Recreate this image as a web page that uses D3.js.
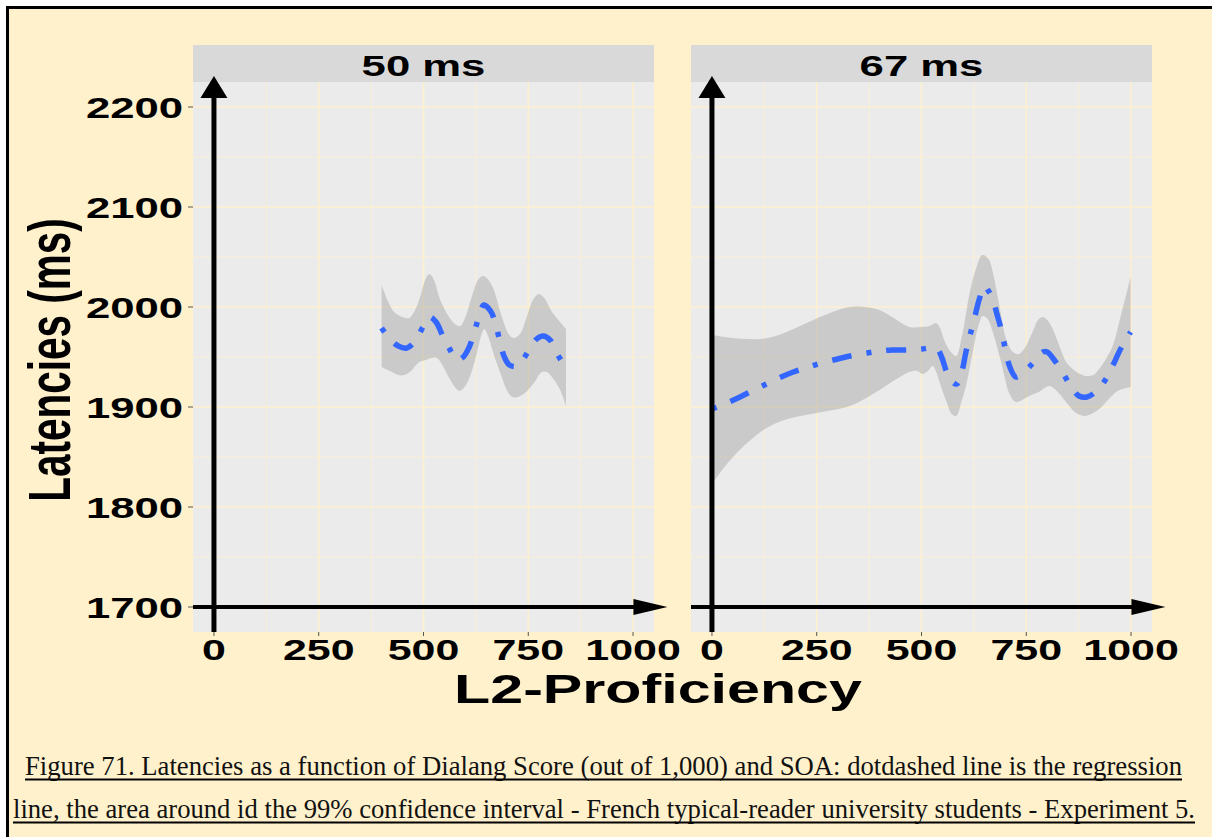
<!DOCTYPE html>
<html>
<head>
<meta charset="utf-8">
<script src="https://cdn.jsdelivr.net/npm/d3@7"></script>
<style>
  html, body { margin: 0; padding: 0; background: #fff; overflow: hidden; }
  svg { display: block; }
</style>
</head>
<body>
<svg id="chart" width="1212" height="837"></svg>
<script>
// facets and axis breaks
var panels = ["50 ms", "67 ms"];
var xTicks = [0, 250, 500, 750, 1000];
var xMinor = [125, 375, 625, 875];
var yTicks = [1700, 1800, 1900, 2000, 2100, 2200];
var yMinor = [1750, 1850, 1950, 2050, 2150];

// 50 ms : smooth fit and 99% band
var fit50 = [[400,1979],[420,1968],[440,1961],[460,1959],[480,1966],[500,1981],[515,1990],[530,1985],[546,1971],[560,1960],[580,1947],[595,1950],[608,1959],[622,1976],[632,1990],[644,2002],[660,1996],[672,1983],[682,1966],[692,1951],[705,1942],[725,1941],[740,1949],[756,1960],[770,1968],[785,1971],[802,1967],[815,1956],[828,1947],[840,1940]];
var upper50 = [[400,2022],[415,2006],[430,1995],[450,1990],[466,1989],[480,1997],[492,2010],[505,2028],[514,2033],[524,2028],[540,2007],[561,1990],[575,1983],[588,1981],[600,1990],[615,2010],[630,2027],[642,2031],[655,2027],[667,2018],[685,1993],[703,1973],[715,1969],[730,1973],[745,1988],[760,2006],[775,2013],[790,2008],[805,1996],[820,1988],[840,1978]];
var lower50 = [[400,1940],[420,1936],[440,1932],[455,1932],[470,1936],[490,1945],[505,1947],[520,1949],[532,1949],[545,1942],[560,1930],[575,1920],[585,1916],[598,1920],[612,1932],[625,1950],[638,1972],[645,1978],[655,1970],[668,1952],[685,1932],[700,1916],[712,1910],[725,1910],[745,1915],[765,1925],[782,1935],[795,1935],[810,1928],[825,1918],[840,1901]];

// 67 ms
var fit67 = [[0,1898],[30,1903],[67,1910],[100,1917],[130,1923],[160,1929],[194,1935],[230,1940],[261,1944],[300,1948],[330,1951],[370,1954],[400,1956],[430,1957],[464,1957],[500,1958],[535,1959],[548,1950],[560,1935],[572,1926],[584,1923],[596,1935],[606,1955],[616,1972],[626,1988],[638,2008],[650,2021],[660,2016],[670,2008],[680,1993],[690,1978],[700,1958],[710,1941],[725,1930],[740,1933],[757,1940],[775,1948],[790,1955],[800,1955],[815,1948],[836,1935],[856,1921],[876,1911],[895,1910],[920,1917],[940,1928],[956,1941],[975,1958],[999,1975]];
var upper67 = [[0,1972],[50,1969],[114,1968],[160,1972],[210,1981],[270,1992],[329,2000],[392,1998],[430,1990],[471,1980],[500,1980],[519,1981],[535,1984],[545,1978],[555,1966],[570,1955],[583,1951],[595,1968],[605,1990],[614,2012],[630,2038],[645,2052],[660,2048],[670,2035],[685,2003],[702,1968],[718,1955],[733,1953],[748,1960],[765,1975],[778,1987],[789,1990],[800,1987],[813,1978],[830,1960],[845,1945],[870,1935],[892,1931],[910,1932],[924,1938],[940,1948],[956,1961],[975,1990],[999,2030]];
var lower67 = [[0,1823],[30,1840],[59,1854],[95,1868],[130,1879],[180,1888],[249,1894],[329,1901],[392,1915],[440,1928],[471,1935],[490,1936],[503,1933],[515,1936],[527,1941],[535,1935],[543,1925],[560,1905],[572,1893],[583,1891],[595,1905],[606,1921],[620,1950],[635,1980],[646,1991],[658,1988],[670,1975],[690,1945],[710,1913],[725,1905],[740,1907],[757,1911],[780,1915],[805,1921],[825,1915],[845,1905],[866,1895],[888,1891],[905,1893],[924,1898],[945,1907],[964,1915],[980,1918],[999,1920]];

var fits = [fit50, fit67];
var uppers = [upper50, upper67];
var lowers = [lower50, lower67];

var captionLines = [
  "Figure 71. Latencies as a function of Dialang Score (out of 1,000) and SOA: dotdashed line is the regression",
  "line, the area around id the 99% confidence interval - French typical-reader university students - Experiment 5."
];

var svg = d3.select("#chart");
var SX = 1.48; // the picture is stretched sideways
var FONT = "'Liberation Sans', Arial, sans-serif";
var BG = "#fff1cc";

// frame: only the top and left rules show, the rest runs off the page
svg.append("rect")
    .attr("x", 7.5).attr("y", 7.5)
    .attr("width", 1212 - 7.5).attr("height", 837 - 7.5)
    .attr("fill", BG);
svg.append("line")
    .attr("x1", 6).attr("x2", 1212).attr("y1", 7.5).attr("y2", 7.5)
    .attr("stroke", "#000").attr("stroke-width", 3);
svg.append("line")
    .attr("x1", 7.5).attr("x2", 7.5).attr("y1", 6).attr("y2", 837)
    .attr("stroke", "#000").attr("stroke-width", 3);

var panelLeft = [193, 691];
var panelW = 461;
var panelTop = 82, panelBottom = 632, stripTop = 45;

var y = d3.scaleLinear().domain([1675, 2225]).range([panelBottom, panelTop]);

function stretched(g, x, yy, txt, size, anchor) {
    return g.append("text")
        .attr("transform", "translate(" + x + "," + yy + ") scale(" + SX + ",1)")
        .attr("text-anchor", anchor)
        .attr("font-family", FONT)
        .attr("font-weight", "bold")
        .attr("font-size", size)
        .attr("fill", "#000")
        .text(txt);
}

var line = d3.line().curve(d3.curveCatmullRom.alpha(0.5));

panels.forEach(function(name, i) {
    var x = d3.scaleLinear().domain([-50, 1050]).range([panelLeft[i], panelLeft[i] + panelW]);
    var g = svg.append("g");

    g.append("rect")
        .attr("x", panelLeft[i]).attr("y", panelTop)
        .attr("width", panelW).attr("height", panelBottom - panelTop)
        .attr("fill", "#ebebeb");

    // grid
    g.selectAll(".vminor").data(xMinor).enter().append("line")
        .attr("x1", d => x(d)).attr("x2", d => x(d))
        .attr("y1", panelTop).attr("y2", panelBottom)
        .attr("stroke", "#fdf0cf").attr("stroke-width", 0.8);
    g.selectAll(".hminor").data(yMinor).enter().append("line")
        .attr("x1", panelLeft[i]).attr("x2", panelLeft[i] + panelW)
        .attr("y1", d => y(d)).attr("y2", d => y(d))
        .attr("stroke", "#fdf0cf").attr("stroke-width", 0.8);
    g.selectAll(".vmajor").data(xTicks).enter().append("line")
        .attr("x1", d => x(d)).attr("x2", d => x(d))
        .attr("y1", panelTop).attr("y2", panelBottom)
        .attr("stroke", "#fdf0cf").attr("stroke-width", 1.6);
    g.selectAll(".hmajor").data(yTicks).enter().append("line")
        .attr("x1", panelLeft[i]).attr("x2", panelLeft[i] + panelW)
        .attr("y1", d => y(d)).attr("y2", d => y(d))
        .attr("stroke", "#fdf0cf").attr("stroke-width", 1.6);

    // confidence band: upper edge forward, lower edge back
    var up = uppers[i].map(d => [x(d[0]), y(d[1])]);
    var lo = lowers[i].slice().reverse().map(d => [x(d[0]), y(d[1])]);
    var band = line(up) + "L" + line(lo).slice(1) + "Z";
    g.append("path")
        .attr("d", band)
        .attr("fill", "#999999")
        .attr("fill-opacity", 0.4);

    // regression line, dotdash
    g.append("path")
        .attr("d", line(fits[i].map(d => [x(d[0]), y(d[1])])))
        .attr("fill", "none")
        .attr("stroke", "#3366ff")
        .attr("stroke-width", 5.5)
        .attr("stroke-dasharray", "5 15 20 15");

    // strip
    g.append("rect")
        .attr("x", panelLeft[i]).attr("y", stripTop)
        .attr("width", panelW).attr("height", panelTop - stripTop)
        .attr("fill", "#d9d9d9");
    stretched(g, panelLeft[i] + panelW / 2, 76, name, 29.5, "middle");

    // x ticks and labels
    g.selectAll(".xt").data(xTicks).enter().append("line")
        .attr("x1", d => x(d)).attr("x2", d => x(d))
        .attr("y1", panelBottom).attr("y2", panelBottom + 4)
        .attr("stroke", "#555").attr("stroke-width", 1);
    xTicks.forEach(function(t) {
        stretched(g, x(t), 659.5, String(t), 29, "middle");
    });

    // arrows: vertical at x = 0, horizontal at y = 1700
    var ax = x(0);
    var tipY = y(2231);
    g.append("line")
        .attr("x1", ax).attr("x2", ax)
        .attr("y1", panelBottom).attr("y2", tipY + 18)
        .attr("stroke", "#000").attr("stroke-width", 5);
    g.append("path")
        .attr("d", "M" + ax + "," + tipY + "L" + (ax - 13.5) + "," + (tipY + 22) + "L" + (ax + 13.5) + "," + (tipY + 22) + "Z")
        .attr("fill", "#000");

    var ay = y(1700);
    var tipX = x(1082);
    g.append("line")
        .attr("x1", panelLeft[i]).attr("x2", tipX - 30)
        .attr("y1", ay).attr("y2", ay)
        .attr("stroke", "#000").attr("stroke-width", 4);
    g.append("path")
        .attr("d", "M" + tipX + "," + ay + "L" + (tipX - 34) + "," + (ay - 8) + "L" + (tipX - 34) + "," + (ay + 8) + "Z")
        .attr("fill", "#000");
});

// y axis on the left panel
var ya = svg.append("g");
ya.selectAll("line").data(yTicks).enter().append("line")
    .attr("x1", panelLeft[0] - 5).attr("x2", panelLeft[0])
    .attr("y1", d => y(d)).attr("y2", d => y(d))
    .attr("stroke", "#555").attr("stroke-width", 1);
yTicks.forEach(function(t) {
    stretched(ya, 183, y(t) + 10.5, String(t), 29.5, "end");
});

// axis titles
stretched(svg, 658, 703, "L2-Proficiency", 40, "middle");
svg.append("text")
    .attr("transform", "translate(70,360) scale(" + SX + ",1) rotate(-90)")
    .attr("text-anchor", "middle")
    .attr("font-family", FONT)
    .attr("font-weight", "bold")
    .attr("font-size", 40.5)
    .text("Latencies (ms)");

// caption
var capX = [[25, 1182], [13, 1195]];
var capY = [775, 818];
captionLines.forEach(function(txt, i) {
    svg.append("text")
        .attr("x", capX[i][0]).attr("y", capY[i])
        .attr("font-family", "'Liberation Serif', 'Times New Roman', serif")
        .attr("font-size", 27)
        .attr("fill", "#111")
        .attr("textLength", capX[i][1] - capX[i][0])
        .attr("lengthAdjust", "spacingAndGlyphs")
        .text(txt);
    svg.append("line")
        .attr("x1", capX[i][0]).attr("x2", capX[i][1])
        .attr("y1", capY[i] + 4.5).attr("y2", capY[i] + 4.5)
        .attr("stroke", "#000").attr("stroke-width", 2);
});
</script>
</body>
</html>
